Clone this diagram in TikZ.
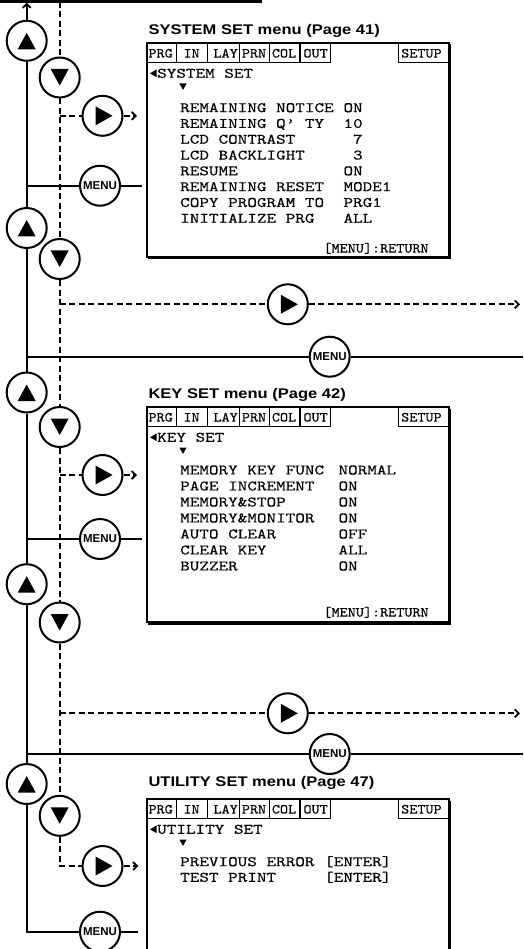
\documentclass[tikz,border=0pt]{standalone}
\usepackage{fontspec}
\usetikzlibrary{arrows.meta}
\newfontfamily\ttlfont[FakeStretch=1.18]{Liberation Sans}
\newfontfamily\btnfont{Liberation Sans}
\newfontfamily\scrfont[FakeStretch=1.26,FakeBold=0.25]{lmmono10-regular.otf}
\newfontfamily\tabfont[FakeStretch=1.1,FakeBold=0.2]{lmmono10-regular.otf}
\newcommand\drawtabs{%
  \draw[tabline] (146.7,43.3) rectangle (176.7,62.3);
  \draw[tabline] (176.7,43.3) rectangle (207.3,62.3);
  \draw[tabline] (207.3,43.3) rectangle (239.3,62.3);
  \draw[tabline] (239.3,43.3) rectangle (269.3,62.3);
  \draw[tabline] (269.3,43.3) rectangle (300,62.3);
  \draw[tabline] (300,43.3) rectangle (330.7,62.3);
  \draw[tabline] (398.3,43.3) rectangle (449,62.3);
  \node[tabt] (tprg) at (148.3,53.3) {PRG};
  \node[tabt] (tin) at (183.3,53.3) {IN};
  \node[tabt] (tlay) at (213.3,53.3) {LAY};
  \node[tabt] (tprn) at (241.7,53.3) {PRN};
  \node[tabt] (tcol) at (271.7,53.3) {COL};
  \node[tabt] (tout) at (303.3,53.3) {OUT};
  \node[tabt] (tsetup) at (401,53.3) {SETUP};
  \pic at (156.5,73.3) {smleft};
  \pic at (183,86.7) {smdown};
}
\begin{document}
\begin{tikzpicture}[x=1pt,y=-1pt,
  btn/.style={circle,draw,line width=2pt,fill=white,minimum size=40pt,inner sep=0pt},
  menubtn/.style={btn,font=\btnfont\bfseries\fontsize{11.5}{11.5}\selectfont},
  sline/.style={line width=2pt},
  dline/.style={line width=2.1pt,dash pattern=on 6pt off 3.5pt},
  endarrow/.style={-{Straight Barb[length=4pt,width=8pt,line width=1.8pt]}},
  scrbox/.style={line width=2.2pt},
  tabline/.style={line width=1.2pt},
  title/.style={anchor=west,inner sep=0pt,text height=10pt,text depth=0pt,font=\ttlfont\bfseries\fontsize{14}{14}\selectfont},
  scr/.style={anchor=west,inner sep=0pt,text height=8.9pt,text depth=0pt,font=\scrfont\fontsize{14.5}{14.5}\selectfont},
  rettext/.style={anchor=west,inner sep=0pt,text height=8.6pt,text depth=0pt,font=\tabfont\fontsize{14}{14}\selectfont},
  tabt/.style={anchor=west,inner sep=0pt,text height=8.55pt,text depth=0pt,font=\tabfont\fontsize{14}{14}\selectfont},
  uptri/.pic={\fill (-9,8.5) -- (9,8.5) -- (0,-8) -- cycle;},
  dntri/.pic={\fill (-9,-8.5) -- (9,-8.5) -- (0,8) -- cycle;},
  rttri/.pic={\fill (-7,-9.5) -- (-7,9.5) -- (10,0) -- cycle;},
  smleft/.pic={\fill (0,-3.8) -- (0,3.8) -- (-6.5,0) -- cycle;},
  smdown/.pic={\fill (-3.6,-3.2) -- (3.6,-3.2) -- (0,3.2) -- cycle;},
]
\useasboundingbox (0,0) rectangle (523,949);
\fill[white] (0,0) rectangle (523,949);
\clip (0,0) rectangle (523,949);

% ---------- buttons ----------
\node[btn] (u1) at (26.7,40.8) {};
\node[btn] (d1) at (59.7,77.5) {};
\node[btn] (r1) at (102.5,115.8) {};
\node[menubtn] (m1) at (100,185.7) {MENU};
\node[btn] (u2) at (26.7,228) {};
\node[btn] (d2) at (59.7,259) {};
\node[btn] (r2) at (287.8,304.3) {};
\node[menubtn] (m2) at (329.7,356.7) {MENU};
\node[btn] (u3) at (26.7,392.5) {};
\node[btn] (d3) at (59.7,427) {};
\node[btn] (r3) at (102.5,475) {};
\node[menubtn] (m3) at (100,539) {MENU};
\node[btn] (u4) at (26.7,584.2) {};
\node[btn] (d4) at (59.7,622.5) {};
\node[btn] (r4) at (287.8,713.3) {};
\node[menubtn] (m4) at (329.7,754) {MENU};
\node[btn] (u5) at (26.7,784) {};
\node[btn] (d5) at (59.7,815.8) {};
\node[btn] (r5) at (102.5,866) {};
\node[menubtn] (m5) at (100,931.7) {MENU};
\foreach \n in {u1,u2,u3,u4,u5} \pic at (\n) {uptri};
\foreach \n in {d1,d2,d3,d4,d5} \pic at (\n) {dntri};
\foreach \n in {r1,r2,r3,r4,r5} \pic at (\n) {rttri};

% ---------- coordinates ----------
\coordinate (tl) at (0,1.3);
\coordinate (tr) at (262,1.3);
\coordinate (st) at (26.7,2.6);
\coordinate (dt) at (59.7,2);
\coordinate (j1) at (59.7,115.8); \coordinate (e1) at (137,115.8);
\coordinate (k1) at (26.7,185.7); \coordinate (f1) at (142,185.7);
\coordinate (j2) at (59.7,304.3); \coordinate (e2) at (520,304.3);
\coordinate (k2) at (26.7,356.7); \coordinate (f2) at (523,356.7);
\coordinate (j3) at (59.7,475);   \coordinate (e3) at (137,475);
\coordinate (k3) at (26.7,539);   \coordinate (f3) at (142,539);
\coordinate (j4) at (59.7,713.3); \coordinate (e4) at (520,713.3);
\coordinate (k4) at (26.7,754);   \coordinate (f4) at (523,754);
\coordinate (j5) at (59.7,866);   \coordinate (e5) at (138.3,866);
\coordinate (k5) at (26.7,931.7); \coordinate (f5) at (138.3,931.7);

% ---------- solid connectors ----------
\draw[line width=2.6pt] (tl) -- (tr);
\draw[sline,endarrow] (u1) -- (st);
\draw[sline] (u1) -- (u2) -- (u3) -- (u4) -- (u5) -- (k5) -- (m5) -- (f5);
\draw[sline] (k1) -- (m1) -- (f1);
\draw[sline] (k2) -- (m2) -- (f2);
\draw[sline] (k3) -- (m3) -- (f3);
\draw[sline] (k4) -- (m4) -- (f4);

% ---------- dashed connectors ----------
\draw[dline] (dt) -- (d1) -- (d2) -- (d3) -- (d4) -- (d5) -- (j5) -- (r5);
\draw[dline,endarrow] (r5) -- (e5);
\draw[dline] (j1) -- (r1); \draw[dline,endarrow] (r1) -- (e1);
\draw[dline] (j2) -- (r2); \draw[dline,endarrow] (r2) -- (e2);
\draw[dline] (j3) -- (r3); \draw[dline,endarrow] (r3) -- (e3);
\draw[dline] (j4) -- (r4); \draw[dline,endarrow] (r4) -- (e4);

% ---------- screen 1 ----------
\node[title] (title1) at (148.3,29.7) {SYSTEM SET menu (Page 41)};
\draw[scrbox] (146.7,43.3) rectangle (449,257.3);
\draw[line width=1.2pt] (450.6,44.5) -- (450.6,258.9) -- (148,258.9);
\begin{scope}[name prefix=a-]
\drawtabs
\end{scope}
\node[scr] (hd1) at (157,73.3) {SYSTEM SET};
\foreach \t [count=\i] in {REMAINING NOTICE,REMAINING Q’ TY,LCD CONTRAST,LCD BACKLIGHT,RESUME,REMAINING RESET,COPY PROGRAM TO,INITIALIZE PRG}
  \node[scr] (ka\i) at (180,{107.7+15.8*(\i-1)}) {\t};
\foreach \t/\x [count=\i] in {ON/343.3,10/343.3,7/352.9,3/352.9,ON/343.3,MODE1/343.3,PRG1/343.3,ALL/343.3}
  \node[scr] (va\i) at (\x,{107.7+15.8*(\i-1)}) {\t};
\node[rettext] (ret1) at (323.3,248.3) {[MENU]:RETURN};

% ---------- screen 2 ----------
\node[title] (title2) at (148.3,393.7) {KEY SET menu (Page 42)};
\draw[scrbox] (146.7,407.3) rectangle (449,622.3);
\draw[line width=1.2pt] (450.6,408.5) -- (450.6,623.9) -- (148,623.9);
\begin{scope}[shift={(0,364)},name prefix=b-]
\drawtabs
\end{scope}
\node[scr] (hd2) at (157,437.3) {KEY SET};
\foreach \t/\v [count=\i] in {MEMORY KEY FUNC/NORMAL,PAGE INCREMENT/ON,MEMORY\&STOP/ON,MEMORY\&MONITOR/ON,AUTO CLEAR/OFF,CLEAR KEY/ALL,BUZZER/ON}
  {\node[scr] (kb\i) at (180,{470+16*(\i-1)}) {\t};
   \node[scr] (vb\i) at (338.3,{470+16*(\i-1)}) {\v};}
\node[rettext] (ret2) at (323.3,612.3) {[MENU]:RETURN};

% ---------- screen 3 ----------
\node[title] (title3) at (148.3,781.3) {UTILITY SET menu (Page 47)};
\draw[scrbox] (146.7,960) -- (146.7,799.3) -- (449,799.3) -- (449,960);
\draw[line width=1.2pt] (450.6,800.5) -- (450.6,960);
\begin{scope}[shift={(0,756)},name prefix=c-]
\drawtabs
\end{scope}
\node[scr] (hd3) at (157,829.3) {UTILITY SET};
\node[scr] (kc1) at (180,861.7) {PREVIOUS ERROR};
\node[scr] (kc2) at (180,877.3) {TEST PRINT};
\node[scr] (vc1) at (324,861.7) {[ENTER]};
\node[scr] (vc2) at (324,877.3) {[ENTER]};
\end{tikzpicture}
\end{document}
